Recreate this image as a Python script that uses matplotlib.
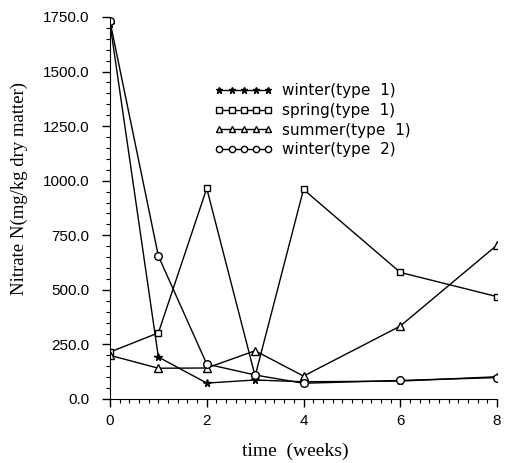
import matplotlib
matplotlib.use("Agg")
import matplotlib.pyplot as plt
from matplotlib.ticker import MultipleLocator, FormatStrFormatter

weeks = [0, 1, 2, 3, 4, 6, 8]
winter1 = [1720, 192, 73, 87, 79, 82, 102]
spring1 = [215, 303, 965, 105, 960, 580, 469]
summer1 = [200, 141, 142, 221, 105, 334, 705]
winter2 = [1730, 655, 160, 110, 72, 85, 98]
labels = ["winter(type  1)", "spring(type  1)", "summer(type  1)", "winter(type  2)"]

fig = plt.figure(figsize=(5.08, 4.63), dpi=100)
ax = fig.add_axes([110/508, 1-399/463, 387/508, 382/463])

kw = dict(color="black", lw=1.0, ms=5.5, mew=1.0)
ax.plot(weeks, winter1, marker="*", mfc="black", label=labels[0], **kw)
ax.plot(weeks, spring1, marker="s", mfc="white", label=labels[1], **{**kw, "ms": 5})
ax.plot(weeks, summer1, marker="^", mfc="white", label=labels[2], **kw)
ax.plot(weeks, winter2, marker="o", mfc="white", label=labels[3], **kw)

ax.set_xlim(0, 8)
ax.set_ylim(0, 1750)
ax.xaxis.set_major_locator(MultipleLocator(2))
ax.xaxis.set_minor_locator(MultipleLocator(0.2))
ax.yaxis.set_major_locator(MultipleLocator(250))
ax.yaxis.set_minor_locator(MultipleLocator(50))
ax.yaxis.set_major_formatter(FormatStrFormatter("%.1f"))
for s in ["top", "right"]:
    ax.spines[s].set_visible(False)
ax.tick_params(which="major", length=6, width=1.0, direction="out", labelsize=11)
ax.tick_params(axis="y", which="major", pad=9)
ax.tick_params(axis="x", which="major", pad=5)
ax.tick_params(which="minor", length=3, width=0.8, direction="out")
for t in ax.get_xticklabels() + ax.get_yticklabels():
    t.set_family("Liberation Sans")

ax.set_xlabel("time  (weeks)", family="Liberation Serif", fontsize=14, labelpad=8)
ax.xaxis.set_label_coords(0.48, -0.115)
ax.set_ylabel("Nitrate N(mg/kg dry matter)", family="Liberation Serif", fontsize=13.5)
ax.yaxis.set_label_coords(-0.212, 0.55)

leg = ax.legend(loc="upper left", bbox_to_anchor=(0.235, 0.862), frameon=False,
                numpoints=5, handlelength=3.8, handletextpad=0.6, labelspacing=0.3,
                prop={"family": "DejaVu Sans", "size": 11})
for h in leg.legend_handles:
    h.set_markersize(4.5)

fig.savefig("out.png", dpi=100)
